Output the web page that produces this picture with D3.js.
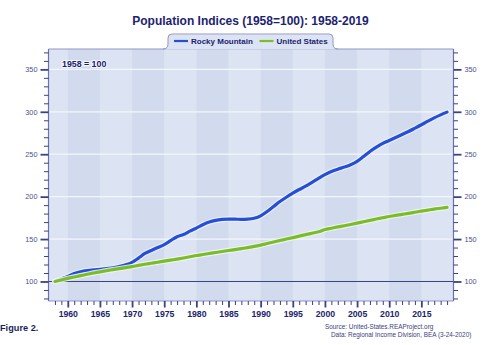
<!DOCTYPE html>
<html lang="en">
<head>
<meta charset="UTF-8">
<title>Population Indices (1958=100): 1958-2019</title>
<script src="https://d3js.org/d3.v7.min.js"></script>
<style>
    body { margin: 0; background: #fff; font-family: "Liberation Sans", Arial, sans-serif; }
    svg text { font-family: "Liberation Sans", Arial, sans-serif; }
</style>
</head>
<body>
<svg id="chart" width="500" height="345"></svg>
<script>
    // Population index, 1958 = 100
    const years = d3.range(1958, 2020);
    const rockyMountain = [
        100.0, 103.0, 106.0, 109.5, 111.5, 112.8, 113.7, 114.4, 115.2, 116.0,
        117.6, 119.6, 122.6, 127.6, 133.0, 136.6, 140.0, 143.5, 148.2, 152.8,
        155.3, 159.3, 162.9, 166.8, 170.0, 172.0, 173.1, 173.6, 173.5, 173.2,
        173.5, 174.6, 177.4, 182.4, 188.3, 194.2, 199.3, 204.0, 208.4, 212.3,
        216.9, 221.6, 226.0, 229.6, 232.4, 234.8, 237.6, 241.6, 247.3, 253.2,
        258.3, 262.8, 266.2, 269.7, 273.2, 276.8, 280.7, 284.7, 288.9, 292.9,
        296.4, 299.6
    ];
    const unitedStates = [
        100.0, 101.8, 103.6, 105.3, 106.9, 108.5, 110.0, 111.4, 112.7, 113.9,
        115.1, 116.3, 117.6, 119.0, 120.3, 121.5, 122.7, 124.0, 125.2, 126.4,
        127.7, 129.1, 130.6, 131.8, 133.0, 134.2, 135.3, 136.5, 137.6, 138.8,
        140.0, 141.3, 142.9, 144.7, 146.5, 148.3, 150.0, 151.7, 153.4, 155.2,
        156.9, 158.6, 161.3, 162.8, 164.3, 165.7, 167.2, 168.8, 170.4, 172.0,
        173.6, 175.1, 176.6, 177.9, 179.1, 180.3, 181.6, 182.9, 184.1, 185.3,
        186.3, 187.3
    ];
    const seriesNames = ["Rocky Mountain", "United States"];
    const yMajorTicks = [100, 150, 200, 250, 300, 350];
    const xMajorTicks = [1960, 1965, 1970, 1975, 1980, 1985, 1990, 1995, 2000, 2005, 2010, 2015];
    const bandStarts = [1960, 1970, 1980, 1990, 2000, 2010];

    const colors = { "Rocky Mountain": "#2550d6", "United States": "#7bbd24" };
    const navy = "#1c2370";
    const axisBlue = "#3a4186";

    const plot = { left: 48.5, right: 453.5, top: 49, bottom: 301 };

    const svg = d3.select("#chart");

    const x = d3.scaleLinear().domain([1957, 2020]).range([plot.left, plot.right]);
    const y = d3.scaleLinear().domain([77, 374]).range([plot.bottom, plot.top]);

    // plot background and alternating 5-year bands
    svg.append("rect")
        .attr("x", plot.left).attr("y", plot.top)
        .attr("width", plot.right - plot.left).attr("height", plot.bottom - plot.top)
        .attr("fill", "#dce4f4");

    svg.selectAll(".band")
        .data(bandStarts)
        .join("rect")
        .attr("class", "band")
        .attr("x", d => x(d))
        .attr("y", plot.top)
        .attr("width", d => x(d + 5) - x(d))
        .attr("height", plot.bottom - plot.top)
        .attr("fill", "#d2dbee");

    // horizontal grid
    svg.selectAll(".grid")
        .data(yMajorTicks.filter(d => d !== 100))
        .join("line")
        .attr("class", "grid")
        .attr("x1", plot.left).attr("x2", plot.right)
        .attr("y1", d => y(d)).attr("y2", d => y(d))
        .attr("stroke", "#f3f6fc")
        .attr("stroke-width", 1.2);

    // base line at 100
    svg.append("line")
        .attr("x1", plot.left).attr("x2", plot.right)
        .attr("y1", y(100)).attr("y2", y(100))
        .attr("stroke", "#3b4283")
        .attr("stroke-width", 1);

    // frame
    svg.append("line")
        .attr("x1", plot.left).attr("x2", plot.right)
        .attr("y1", plot.top).attr("y2", plot.top)
        .attr("stroke", "#9096c4").attr("stroke-width", 1);
    svg.append("line")
        .attr("x1", plot.left).attr("x2", plot.right)
        .attr("y1", plot.bottom).attr("y2", plot.bottom)
        .attr("stroke", "#9096c4").attr("stroke-width", 1);
    [plot.left, plot.right].forEach(px => {
        svg.append("line")
            .attr("x1", px).attr("x2", px)
            .attr("y1", plot.top).attr("y2", plot.bottom)
            .attr("stroke", "#6b71aa").attr("stroke-width", 1.2);
    });

    // legend tab on top of the frame
    const tabL = 168, tabR = 333, tabTop = 34, r = 4;
    const tabPath = `M${tabL - 5},${plot.top} Q${tabL},${plot.top} ${tabL},${plot.top - 5}
        L${tabL},${tabTop + r} Q${tabL},${tabTop} ${tabL + r},${tabTop}
        L${tabR - r},${tabTop} Q${tabR},${tabTop} ${tabR},${tabTop + r}
        L${tabR},${plot.top - 5} Q${tabR},${plot.top} ${tabR + 5},${plot.top}`;
    svg.append("path")
        .attr("d", tabPath + " Z")
        .attr("fill", "#dce4f4")
        .attr("transform", "translate(0,0.6)");
    svg.append("path")
        .attr("d", tabPath)
        .attr("fill", "none")
        .attr("stroke", "#9096c4")
        .attr("stroke-width", 1);

    const legendItems = [
        { name: seriesNames[0], x0: 174 },
        { name: seriesNames[1], x0: 259.5 }
    ];
    const lg = svg.selectAll(".legend")
        .data(legendItems)
        .join("g")
        .attr("class", "legend")
        .attr("transform", d => `translate(${d.x0},41)`);
    lg.append("line")
        .attr("x1", 0).attr("x2", 14)
        .attr("stroke", d => colors[d.name])
        .attr("stroke-width", 2.2);
    lg.append("text")
        .attr("x", 17).attr("dy", "0.35em")
        .attr("font-size", 8).attr("font-weight", "bold")
        .attr("fill", navy)
        .text(d => d.name);

    // y axes (left and right), major + minor ticks
    const yMinorTicks = d3.range(80, 371, 10).filter(d => d % 50 !== 0);

    function yAxis(axisFn, px) {
        const gMinor = svg.append("g")
            .attr("transform", `translate(${px},0)`)
            .call(axisFn(y).tickValues(yMinorTicks).tickSize(4.5).tickFormat(""));
        const gMajor = svg.append("g")
            .attr("transform", `translate(${px},0)`)
            .call(axisFn(y).tickValues(yMajorTicks).tickSize(8).tickPadding(3).tickFormat(d3.format("d")));
        [gMinor, gMajor].forEach(g => {
            g.select(".domain").remove();
            g.selectAll("line").attr("stroke", axisBlue);
        });
        gMinor.selectAll("line").attr("stroke-width", 1);
        gMajor.selectAll("line").attr("stroke-width", 1.8);
        gMajor.selectAll("text")
            .attr("font-size", 7.3)
            .attr("fill", "#4a5192");
    }
    yAxis(d3.axisLeft, plot.left);
    yAxis(d3.axisRight, plot.right);

    // x axis
    const xMinorTicks = years.filter(d => d % 5 !== 0);
    const gxMinor = svg.append("g")
        .attr("transform", `translate(0,${plot.bottom})`)
        .call(d3.axisBottom(x).tickValues(xMinorTicks).tickSize(4).tickFormat(""));
    const gxMajor = svg.append("g")
        .attr("transform", `translate(0,${plot.bottom})`)
        .call(d3.axisBottom(x).tickValues(xMajorTicks).tickSize(6.5).tickPadding(3).tickFormat(d3.format("d")));
    [gxMinor, gxMajor].forEach(g => {
        g.select(".domain").remove();
        g.selectAll("line").attr("stroke", axisBlue);
    });
    gxMinor.selectAll("line").attr("stroke-width", 1);
    gxMajor.selectAll("line").attr("stroke-width", 1.8);
    gxMajor.selectAll("text")
        .attr("font-size", 8.7)
        .attr("font-weight", "bold")
        .attr("fill", navy);

    // series lines with a pale halo; US drawn last so it sits on top
    const line = d3.line()
        .x((d, i) => x(years[i]))
        .y(d => y(d))
        .curve(d3.curveMonotoneX);

    const series = [
        { name: "Rocky Mountain", values: rockyMountain },
        { name: "United States", values: unitedStates }
    ];
    series.forEach(s => {
        svg.append("path")
            .attr("d", line(s.values))
            .attr("fill", "none")
            .attr("stroke", "#f2f5fb")
            .attr("stroke-opacity", 0.85)
            .attr("stroke-width", 5.4)
            .attr("stroke-linecap", "round");
        svg.append("path")
            .attr("d", line(s.values))
            .attr("fill", "none")
            .attr("stroke", colors[s.name])
            .attr("stroke-width", 3.2)
            .attr("stroke-linecap", "round");
    });

    // base note inside the plot
    svg.append("text")
        .attr("x", 62).attr("y", 67)
        .attr("font-size", 8.8).attr("font-weight", "bold")
        .attr("fill", navy)
        .attr("stroke", "#f4f7fd").attr("stroke-width", 2.2)
        .attr("paint-order", "stroke")
        .text("1958 = 100");

    // title
    svg.append("text")
        .attr("x", 250.5).attr("y", 24.5)
        .attr("text-anchor", "middle")
        .attr("font-size", 12).attr("font-weight", "bold")
        .attr("fill", navy)
        .text("Population Indices (1958=100): 1958-2019");

    // footer
    svg.append("text")
        .attr("x", 0).attr("y", 331)
        .attr("font-size", 9.2).attr("font-weight", "bold")
        .attr("fill", "#1a1f5c")
        .text("Figure 2.");
    svg.append("text")
        .attr("x", 325).attr("y", 328.5)
        .attr("font-size", 6.4)
        .attr("fill", "#3b4280")
        .text("Source: United-States.REAProject.org");
    svg.append("text")
        .attr("x", 331).attr("y", 336.5)
        .attr("font-size", 6.4)
        .attr("fill", "#3b4280")
        .text("Data: Regional Income Division, BEA (3-24-2020)");
</script>
</body>
</html>
